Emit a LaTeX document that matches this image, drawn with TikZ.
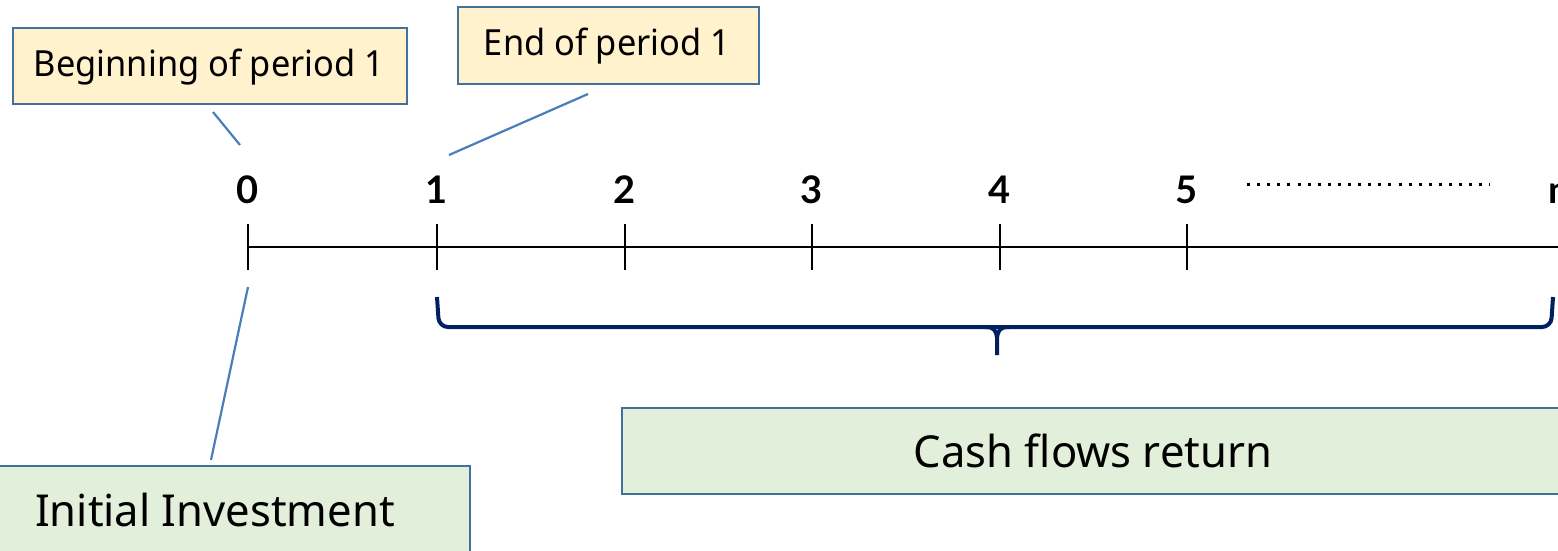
\documentclass[tikz,border=0pt]{standalone}
\usepackage{fontspec}
\setmainfont{Noto Sans}
\newfontfamily\lblfont[FakeStretch=0.955]{Noto Sans}
\newfontfamily\biglblfont[FakeStretch=0.99]{Noto Sans}
\newfontfamily\numfont{Lato}
\definecolor{boxline}{HTML}{41719C}
\definecolor{yellowfill}{HTML}{FFF2CC}
\definecolor{greenfill}{HTML}{E2EFDA}
\definecolor{bracecol}{HTML}{002060}
\definecolor{conn}{HTML}{4A7EBB}
\begin{document}
\begin{tikzpicture}[x=1pt,y=-1pt,
  callout/.style={draw=boxline,line width=2.4pt,fill=yellowfill,inner sep=0pt,anchor=north west},
  greenbox/.style={draw=boxline,line width=2.4pt,fill=greenfill,inner sep=0pt,anchor=north west},
  lbl/.style={font=\lblfont\fontsize{36}{36}\selectfont},
  biglbl/.style={font=\biglblfont\fontsize{44}{44}\selectfont},
  num/.style={font=\numfont\bfseries\fontsize{38}{38}\selectfont,anchor=base},
  tick/.style={line width=2pt,black},
  connector/.style={draw=conn,line width=2.2pt},
  bracestyle/.style={draw=bracecol,line width=4pt,rounded corners=9pt}]
\useasboundingbox (0,0) rectangle (1558,550);
% callout boxes
\node[callout,minimum width=394pt,minimum height=76pt] (beg) at (12,27) {};
\node[lbl,anchor=base] (begt) at (209,76) {Beginning of period 1};
\node[callout,minimum width=301pt,minimum height=77pt] (endb) at (457,6) {};
\node[lbl,anchor=base] (endt) at (607,55) {End of period 1};
% green boxes
\node[greenbox,minimum width=507pt,minimum height=100pt] (init) at (-38,465) {};
\node[biglbl,anchor=base] (initt) at (215,526) {Initial Investment};
\node[greenbox,minimum width=960pt,minimum height=86pt] (cash) at (621,407) {};
\node[biglbl,anchor=base] (casht) at (1093,467) {Cash flows return};
% axis
\coordinate (a0) at (248,247);
\coordinate (aend) at (1570,247);
\draw[tick] (a0) -- (aend);
\foreach \x/\n [count=\i from 0] in {248/0,437/1,625/2,812/3,1000/4,1187/5}{
  \coordinate (t\i) at (\x,247);
  \draw[tick] ([yshift=-23pt]t\i) -- ([yshift=23pt]t\i);
  \node[num] (n\i) at (\x,203) {\n};
}
\node[num,anchor=base west] (nn) at (1545,203) {n};
% dots
\coordinate (d1) at (1247,184);
\coordinate (d2) at (1490,184);
\draw[line width=3pt,dash pattern=on 3pt off 7.1pt] (d1) -- (d2);
% brace
\coordinate (b1) at (437,297);
\coordinate (bm) at (997,327);
\coordinate (bt) at (997,355);
\coordinate (b2) at (1553,297);
\draw[bracestyle] (b1) -- (439,327) -- (bm) -- (1551,327) -- (b2);
\draw[draw=bracecol,line width=4pt] (985,327) .. controls (994,327) and (996,330) .. (997,338) -- (bt);
\draw[draw=bracecol,line width=4pt] (1009,327) .. controls (1000,327) and (998,330) .. (997,338);
% connectors
\coordinate (c1a) at (213,112);
\coordinate (c1b) at (240,145);
\draw[connector] (c1a) -- (c1b);
\coordinate (c2a) at (588,94);
\coordinate (c2b) at (449,155);
\draw[connector] (c2a) -- (c2b);
\coordinate (c3a) at (248,287);
\coordinate (c3b) at (211,460);
\draw[connector] (c3a) -- (c3b);
\end{tikzpicture}
\end{document}
